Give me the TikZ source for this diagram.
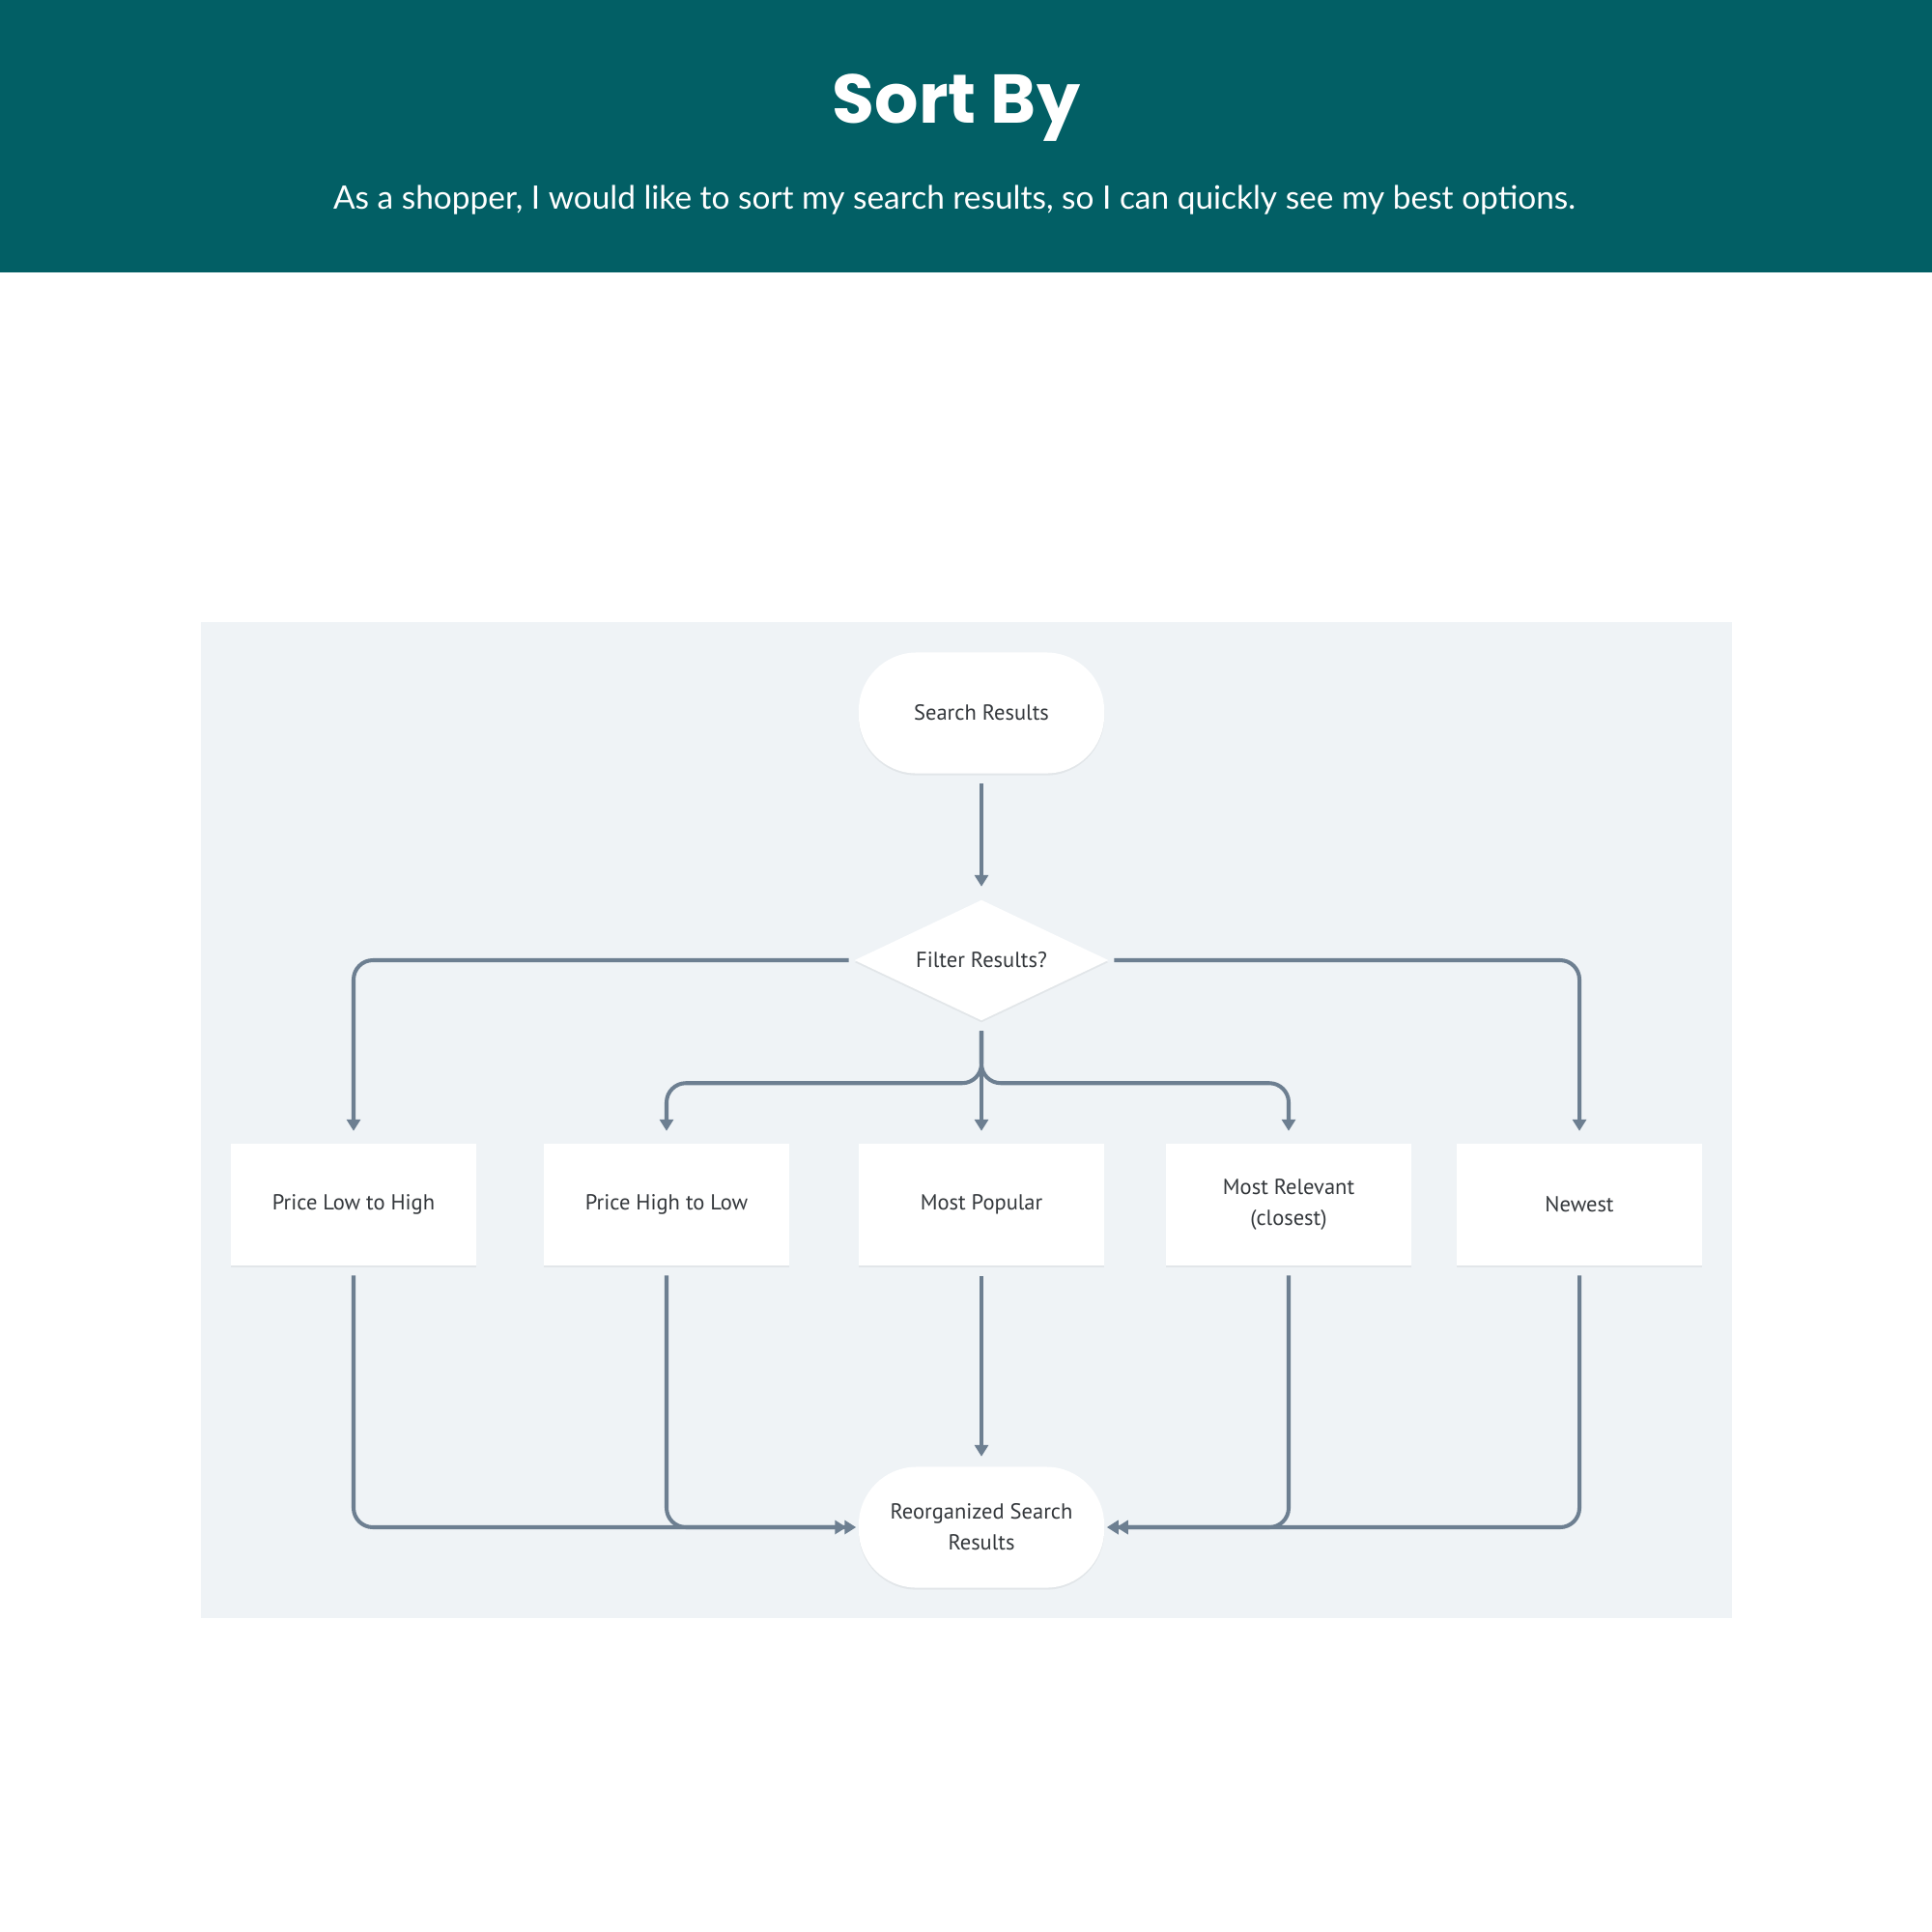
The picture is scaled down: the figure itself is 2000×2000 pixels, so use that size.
\documentclass[tikz,border=0pt]{standalone}
\usepackage{fontspec}
\setmainfont{Lato}
\newfontfamily\titlefont{Poppins}
\newfontfamily\nodefont{PT Sans}
\usetikzlibrary{arrows.meta,shapes.geometric,shadows}
\definecolor{headerteal}{HTML}{025F65}
\definecolor{panelgray}{HTML}{EFF3F6}
\definecolor{linegray}{HTML}{6D7F91}
\definecolor{textgray}{HTML}{33373B}
\tikzset{
  shadowed/.style={drop shadow={shadow xshift=0pt,shadow yshift=-0.6pt,opacity=0.05,fill=black}},
  nodetext/.style={font=\nodefont\fontsize{6.4}{9.1}\selectfont,text=textgray},
  pill/.style={shape=rectangle,rounded corners=0.6cm,fill=white,minimum width=2.54cm,minimum height=1.25cm,inner sep=0pt,align=center,nodetext,shadowed},
  optbox/.style={shape=rectangle,fill=white,minimum width=2.54cm,minimum height=1.25cm,inner sep=0pt,align=center,nodetext,shadowed},
  decision/.style={shape=diamond,fill=white,minimum width=2.63cm,minimum height=1.25cm,shape aspect=2.1,inner sep=0pt,nodetext,shadowed},
  conn/.style={draw=linegray,line width=1.15pt,rounded corners=0.2cm,-{Triangle[width=4pt,length=3.4pt]},shorten <=0.1cm,shorten >=0.13cm},
}
\begin{document}
\begin{tikzpicture}[x=0.01cm,y=-0.01cm]
\useasboundingbox[fill=white] (0,0) rectangle (2000,2000);
\fill[headerteal] (0,0) rectangle (2000,282);
\node[anchor=base,text=white,font=\titlefont\bfseries\fontsize{20.3}{24}\selectfont] (title) at (990,128) {Sort By};
\node[anchor=base,text=white,font=\fontsize{9.5}{11}\selectfont] (sub) at (988,217) {As a shopper, I would like to sort my search results, so I can quickly see my best options.};
\fill[panelgray] (208,644) rectangle (1793,1675);

\node[pill] (sr) at (1016,738) {Search Results};
\node[decision] (fr) at (1016,994) {Filter Results?};
\node[optbox] (p1) at (366,1247) {Price Low to High};
\node[optbox] (p2) at (690,1247) {Price High to Low};
\node[optbox] (mp) at (1016,1247) {Most Popular};
\node[optbox] (p4) at (1334,1247) {Most Relevant\\(closest)};
\node[optbox] (p5) at (1635,1247) {Newest};
\node[pill] (rs) at (1016,1581) {Reorganized Search\\Results};

\draw[conn] (sr) -- (fr);
\draw[conn,shorten <=0.05cm] (fr.west) -| (p1.north);
\draw[conn,shorten <=0.05cm] (fr.east) -| (p5.north);
\draw[conn] (fr.south) -- ++(0,64) -| (p2.north);
\draw[conn] (fr.south) -- ++(0,64) -| (p4.north);
\draw[conn] (fr) -- (mp);

\draw[conn,shorten >=0.02cm] (p1.south) |- (rs.west);
\draw[conn,shorten >=0.12cm] (p2.south) |- (rs.west);
\draw[conn,shorten >=0.1cm,shorten <=0.11cm] (mp) -- (rs);
\draw[conn,shorten >=0.12cm] (p4.south) |- (rs.east);
\draw[conn,shorten >=0.02cm] (p5.south) |- (rs.east);
\end{tikzpicture}
\end{document}
